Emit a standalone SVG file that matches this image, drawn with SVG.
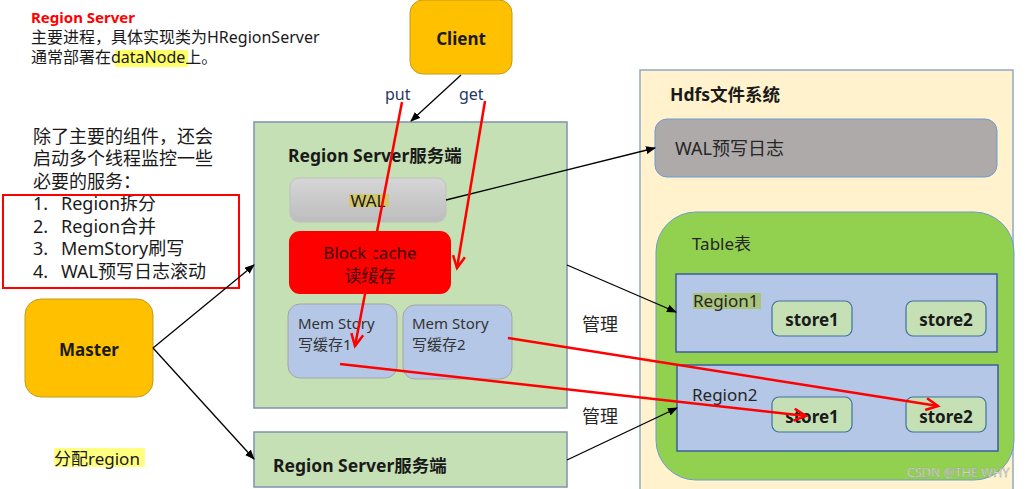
<svg xmlns="http://www.w3.org/2000/svg" width="1026" height="489" viewBox="0 0 1026 489">
<style>
  text { font-family: "Noto Sans", "Noto Sans CJK SC", sans-serif; fill: #1a1a1a; }
  .b { font-weight: bold; }
  .rs { fill: #C5E0B4; stroke: #7E93B0; stroke-width: 1.5; }
  .mem { fill: #B4C7E7; stroke: #A5A5A5; stroke-width: 1; }
  .gold { fill: #FFC000; stroke: #C49A1A; stroke-width: 1; }
  .region { fill: #B4C7E7; stroke: #3B5E9A; stroke-width: 1.5; }
  .store { fill: #C5E0B4; stroke: #41719C; stroke-width: 1.2; }
  .blk { stroke: #000; stroke-width: 1.3; fill: none; }
  .red { stroke: #FF0000; stroke-width: 2.5; fill: none; }
</style>
<defs>
  <linearGradient id="walg" x1="0" y1="0" x2="0" y2="1">
    <stop offset="0" stop-color="#D6D6D6"/>
    <stop offset="1" stop-color="#BDBDBD"/>
  </linearGradient>
  <marker id="ab" markerWidth="10" markerHeight="8" refX="9" refY="4" orient="auto" markerUnits="userSpaceOnUse">
    <path d="M0,0 L10,4 L0,8 Z" fill="#000"/>
  </marker>
  <marker id="ar" markerWidth="16" markerHeight="14" refX="13" refY="7" orient="auto" markerUnits="userSpaceOnUse">
    <path d="M1,1 L13,7 L1,13" fill="none" stroke="#FF0000" stroke-width="2.5"/>
  </marker>
</defs>
<rect width="1026" height="489" fill="#fff"/>

<g id="notes">
  <text x="31" y="23" class="b" font-size="15" style="fill:#FF0000">Region Server</text>
  <text x="31" y="43" font-size="16">主要进程，具体实现类为HRegionServer</text>
  <rect x="115" y="50" width="73" height="17" fill="#FFFF66"/>
  <text x="31" y="63" font-size="16">通常部署在dataNode上。</text>
</g>

<g id="services">
  <text x="33" y="143" font-size="18">除了主要的组件，还会</text>
  <text x="33" y="165" font-size="18">启动多个线程监控一些</text>
  <text x="33" y="188" font-size="18">必要的服务：</text>
  <text x="33" y="210" font-size="18">1.</text><text x="61" y="210" font-size="18">Region拆分</text>
  <text x="33" y="233" font-size="18">2.</text><text x="61" y="233" font-size="18">Region合并</text>
  <text x="33" y="255" font-size="18">3.</text><text x="61" y="255" font-size="18">MemStory刷写</text>
  <text x="33" y="278" font-size="18">4.</text><text x="61" y="278" font-size="18">WAL预写日志滚动</text>
  <rect x="3" y="195" width="236" height="93" fill="none" stroke="#FF0000" stroke-width="2"/>
</g>

<g id="client">
  <rect x="410" y="0" width="102" height="74" rx="13" class="gold"/>
  <text x="461" y="45" class="b" font-size="17" text-anchor="middle">Client</text>
</g>

<g id="master">
  <rect x="25" y="299" width="128" height="98" rx="16" class="gold"/>
  <text x="89" y="356" class="b" font-size="17" text-anchor="middle">Master</text>
</g>

<g id="assign-label">
  <rect x="54" y="448" width="91" height="19" fill="#FFFF80"/>
  <text x="54" y="465" font-size="17">分配region</text>
</g>

<g id="region-server-1">
  <rect x="254" y="122" width="313" height="286" class="rs"/>
  <text x="288" y="162" class="b" font-size="17.5">Region Server服务端</text>
</g>

<g id="wal">
  <rect x="290" y="178" width="156" height="44" rx="9" fill="url(#walg)" stroke="#BFBFBF" stroke-width="1"/>
  <rect x="349" y="194" width="40" height="13" fill="#D3C86C"/>
  <text x="368" y="207" font-size="17" text-anchor="middle">WAL</text>
</g>

<g id="block-cache">
  <rect x="289" y="231" width="162" height="63" rx="11" fill="#FF0000"/>
  <text x="370" y="259" font-size="17" text-anchor="middle" style="fill:#3a0000">Block cache</text>
  <text x="370" y="282" font-size="17" text-anchor="middle" style="fill:#3a0000">读缓存</text>
</g>

<g id="memstore-1">
  <rect x="288" y="304" width="109" height="74" rx="12" class="mem"/>
  <text x="298" y="329" font-size="15" style="fill:#333">Mem Story</text>
  <text x="298" y="350" font-size="15" style="fill:#333">写缓存1</text>
</g>

<g id="memstore-2">
  <rect x="403" y="305" width="109" height="74" rx="12" class="mem"/>
  <text x="412" y="329" font-size="15" style="fill:#333">Mem Story</text>
  <text x="412" y="350" font-size="15" style="fill:#333">写缓存2</text>
</g>

<g id="region-server-2">
  <rect x="254" y="432" width="313" height="55" class="rs"/>
  <text x="273" y="472" class="b" font-size="17.5">Region Server服务端</text>
</g>

<g id="hdfs">
  <rect x="640" y="70" width="373" height="430" fill="#FFF2CC" stroke="#8EA9C8" stroke-width="1.5"/>
  <text x="670" y="101" class="b" font-size="17.5">Hdfs文件系统</text>
</g>

<g id="wal-log">
  <rect x="655" y="119" width="342" height="58" rx="12" fill="#AEAAAA" stroke="#6C9BD2" stroke-width="1"/>
  <text x="675" y="155" font-size="18" style="fill:#262626">WAL预写日志</text>
</g>

<g id="table">
  <rect x="656" y="212" width="358" height="268" rx="40" fill="#92D050" stroke="#6C9BD2" stroke-width="1"/>
  <text x="692" y="250" font-size="17" style="fill:#262626">Table表</text>
</g>

<g id="region1">
  <rect x="676" y="274" width="321" height="78" class="region"/>
  <rect x="693" y="293" width="68" height="16" fill="#A9C47B"/>
  <text x="693" y="307" font-size="17" style="fill:#262626">Region1</text>
</g>
<g id="r1-store1">
  <rect x="772" y="301" width="80" height="35" rx="7" class="store"/>
  <text x="812" y="326" class="b" font-size="17" text-anchor="middle">store1</text>
</g>
<g id="r1-store2">
  <rect x="906" y="301" width="80" height="35" rx="7" class="store"/>
  <text x="946" y="326" class="b" font-size="17" text-anchor="middle">store2</text>
</g>

<g id="region2">
  <rect x="677" y="365" width="321" height="86" class="region"/>
  <text x="692" y="401" font-size="17" style="fill:#262626">Region2</text>
</g>
<g id="r2-store1">
  <rect x="772" y="397" width="80" height="35" rx="7" class="store"/>
  <text x="812" y="423" class="b" font-size="17" text-anchor="middle">store1</text>
</g>
<g id="r2-store2">
  <rect x="906" y="397" width="80" height="35" rx="7" class="store"/>
  <text x="946" y="423" class="b" font-size="17" text-anchor="middle">store2</text>
</g>

<g id="connectors">
  <line x1="461" y1="75" x2="411" y2="121" class="blk" marker-end="url(#ab)"/>
  <line x1="153" y1="348" x2="254" y2="265" class="blk" marker-end="url(#ab)"/>
  <line x1="153" y1="348" x2="254" y2="459" class="blk" marker-end="url(#ab)"/>
  <line x1="446" y1="200" x2="655" y2="148" class="blk" marker-end="url(#ab)"/>
  <line x1="567" y1="265" x2="676" y2="312" class="blk" marker-end="url(#ab)"/>
  <line x1="567" y1="460" x2="677" y2="408" class="blk" marker-end="url(#ab)"/>
  <line x1="402" y1="102" x2="355" y2="346" class="red" marker-end="url(#ar)"/>
  <line x1="485" y1="101" x2="457" y2="268" class="red" marker-end="url(#ar)"/>
  <line x1="340" y1="364" x2="806" y2="416" class="red" marker-end="url(#ar)"/>
  <line x1="508" y1="338" x2="938" y2="406" class="red" marker-end="url(#ar)"/>
</g>

<g id="labels">
  <text x="385" y="100" font-size="16" style="fill:#1f3864">put</text>
  <text x="459" y="100" font-size="16" style="fill:#1f3864">get</text>
  <text x="582" y="331" font-size="18" style="fill:#262626">管理</text>
  <text x="582" y="423" font-size="18" style="fill:#262626">管理</text>
  <text x="907" y="477" font-size="12.5" style="fill:#e6e6e6;stroke:#9a9a9a;stroke-width:0.4">CSDN @THE WHY</text>
</g>
</svg>
